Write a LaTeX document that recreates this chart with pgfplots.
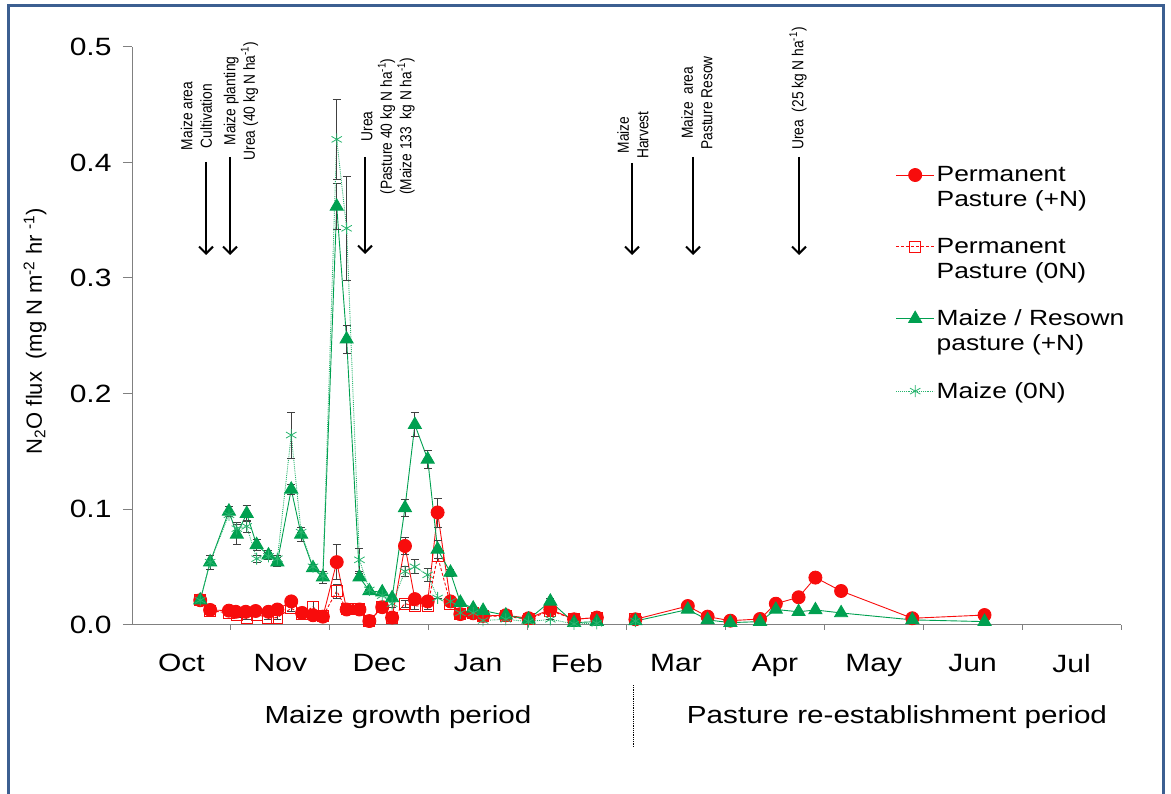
\documentclass[border=0pt]{standalone}
\usepackage{fontspec}
\setmainfont{Liberation Sans}
\newfontfamily\bigfont[FakeStretch=1.2]{Liberation Sans}
\newfontfamily\annfont[FakeStretch=0.86]{Liberation Sans}
\usepackage{pgfplots}
\pgfplotsset{compat=1.18}
\usetikzlibrary{arrows.meta}
\definecolor{myred}{RGB}{248,12,12}
\definecolor{mygreen}{RGB}{0,160,80}
\definecolor{mylgreen}{RGB}{40,180,110}
\definecolor{bordercol}{RGB}{60,95,145}

\pgfplotstableread{
x y e
0.69 0.021 0
0.79 0.0126 0
0.98 0.012 0
1.05 0.011 0
1.15 0.011 0
1.25 0.0117 0
1.38 0.011 0
1.47 0.013 0
1.61 0.020 0.002
1.72 0.010 0
1.83 0.008 0
1.93 0.0068 0
2.07 0.054 0.015
2.17 0.013 0
2.30 0.013 0
2.40 0.003 0
2.53 0.015 0
2.63 0.006 0
2.76 0.068 0.0075
2.86 0.022 0
2.99 0.020 0
3.09 0.097 0.0125
3.22 0.020 0
3.32 0.009 0
3.45 0.0097 0
3.55 0.0074 0
3.78 0.008 0
4.01 0.0054 0
4.23 0.013 0.003
4.47 0.0045 0
4.70 0.006 0
nan nan 0
5.09 0.0045 0
5.62 0.016 0
5.82 0.0068 0
6.05 0.0033 0
6.35 0.0048 0
6.51 0.018 0
6.74 0.0236 0
6.91 0.0406 0
7.17 0.029 0
7.89 0.0054 0
8.62 0.0082 0
}\ppN

\pgfplotstableread{
x y e
0.69 0.021 0
0.79 0.012 0
0.98 0.010 0
1.06 0.008 0.002
1.16 0.006 0.002
1.26 0.0085 0
1.38 0.006 0.002
1.47 0.006 0.002
1.61 0.014 0.003
1.72 0.009 0
1.83 0.0154 0.005
1.93 0.007 0
2.07 0.029 0.006
2.17 0.013 0
2.30 0.013 0
2.40 0.003 0
2.53 0.015 0
2.63 0.006 0
2.76 0.018 0.003
2.86 0.016 0.003
2.99 0.016 0.003
3.09 0.059 0.004
3.22 0.018 0
3.32 0.009 0
3.45 0.0097 0
3.55 0.0074 0
3.78 0.007 0
4.01 0.0045 0
4.23 0.012 0
4.47 0.0045 0
4.70 0.006 0
nan nan 0
5.09 0.0045 0
}\ppZ

\pgfplotstableread{
x y e
0.69 0.021 0
0.79 0.054 0.006
0.98 0.098 0.004
1.06 0.078 0.009
1.16 0.096 0.007
1.26 0.069 0.005
1.38 0.060 0.004
1.47 0.054 0.004
1.61 0.117 0.004
1.71 0.078 0.006
1.83 0.049 0.003
1.93 0.041 0.005
2.07 0.362 0.02
2.17 0.247 0.012
2.30 0.041 0.003
2.40 0.029 0
2.53 0.028 0
2.63 0.023 0
2.76 0.101 0.0075
2.86 0.173 0.0105
2.99 0.143 0.0077
3.09 0.065 0.008
3.22 0.045 0.003
3.32 0.019 0
3.45 0.014 0
3.55 0.012 0
3.78 0.008 0
4.01 0.0045 0
4.23 0.020 0.003
4.47 0.0016 0
4.70 0.0025 0
nan nan 0
5.09 0.003 0
5.62 0.013 0
5.82 0.004 0
6.05 0.0016 0
6.35 0.0025 0
6.51 0.013 0
6.74 0.011 0
6.91 0.0126 0
7.17 0.010 0
7.89 0.004 0
8.62 0.0025 0
}\mzN

\pgfplotstableread{
x y e
0.69 0.021 0
0.79 0.054 0
0.98 0.095 0
1.06 0.083 0.005
1.16 0.085 0.005
1.26 0.057 0.003
1.38 0.059 0.003
1.47 0.057 0.003
1.61 0.164 0.020
1.71 0.080 0
1.83 0.050 0
1.93 0.042 0
2.07 0.420 0.035
2.17 0.343 0.045
2.30 0.056 0.010
2.40 0.030 0
2.53 0.025 0
2.63 0.018 0.003
2.76 0.046 0.004
2.86 0.050 0.006
2.99 0.043 0.006
3.09 0.023 0
3.22 0.020 0
3.32 0.010 0
3.45 0.010 0
3.55 0.0035 0
3.78 0.0045 0
4.01 0.0025 0
4.23 0.0045 0
4.47 0.0005 0
4.70 0.001 0
nan nan 0
5.09 0.003 0
}\mzZ

\begin{document}
\begin{tikzpicture}
\useasboundingbox (0,0) rectangle (1171pt,-794pt);
\draw[bordercol, line width=3pt] (8pt,-800pt) -- (8pt,-6pt) -- (1163pt,-6pt) -- (1163pt,-800pt);
\begin{axis}[
  at={(132pt,-624.5pt)}, anchor=south west,
  scale only axis, width=989pt, height=577.5pt,
  xmin=0, xmax=10, ymin=0, ymax=0.5,
  clip=false,
  unbounded coords=jump,
  axis x line=bottom, axis y line=left,
  axis line style={-, draw=gray, line width=1pt},
  tick align=outside,
  major tick length=9pt,
  minor tick length=5pt,
  ytick={0,0.1,0.2,0.3,0.4,0.5},
  ytick style={draw=gray, line width=1pt},
  y tick label style={/pgf/number format/fixed, /pgf/number format/fixed zerofill, /pgf/number format/precision=1},
  yticklabel style={xshift=-8pt},
  xtick={0.5,1.5,2.5,3.5,4.5,5.5,6.5,7.5,8.5,9.5},
  xticklabels={Oct,Nov,Dec,Jan,Feb,Mar,Apr,May,Jun,Jul},
  major x tick style={draw=none},
  minor xtick={1,2,3,4,5,6,7,8,9,10},
  minor x tick style={draw=gray, line width=1pt},
  xticklabel style={yshift=-17pt},
  /pgf/number format/assume math mode=true,
  ticklabel style={font=\bigfont\fontsize{25}{30}\selectfont, text=black},
  legend style={at={(rel axis cs:0.769,0.8)}, anchor=north west, draw=none, fill=none,
    font=\bigfont\fontsize{22}{25}\selectfont, cells={align=left}, row sep=26pt},
  legend cell align=left,
  legend image code/.code={\draw[mark repeat=2,mark phase=2,#1] plot coordinates {(0pt,0pt) (19pt,0pt) (38pt,0pt)};},
  error bars/error bar style={black!75, line width=0.8pt, solid},
  error bars/error mark options={rotate=90, mark size=4pt, black!75, line width=0.8pt, solid},
]
\addplot[myred, line width=0.9pt, mark=*, mark size=6.5pt, mark options={solid, fill=myred},
  legend image post style={yshift=12.5pt},
  error bars/.cd, y dir=both, y explicit] table[x=x, y=y, y error=e] {\ppN};
\addlegendentry{Permanent\\Pasture (+N)}
\addplot[myred, line width=0.9pt, densely dashed, mark=square, mark size=5.5pt, mark options={solid, line width=1pt},
  legend image post style={yshift=12.5pt},
  error bars/.cd, y dir=both, y explicit] table[x=x, y=y, y error=e] {\ppZ};
\addlegendentry{Permanent\\Pasture (0N)}
\addplot[mygreen, line width=0.9pt, mark=triangle*, mark size=7.5pt, mark options={solid, fill=mygreen},
  legend image post style={yshift=12.5pt},
  error bars/.cd, y dir=both, y explicit] table[x=x, y=y, y error=e] {\mzN};
\addlegendentry{Maize / Resown\\pasture (+N)}
\addplot[mylgreen, line width=0.9pt, densely dotted, mark=asterisk, mark size=6pt, mark options={solid, line width=0.8pt},
  error bars/.cd, y dir=both, y explicit] table[x=x, y=y, y error=e] {\mzZ};
\addlegendentry{Maize (0N)}
\end{axis}

% y label
\node[rotate=90, font=\fontsize{22}{26}\selectfont] at (35pt,-331pt)
  {N\textsubscript{2}O flux\ \ (mg N m\textsuperscript{-2} hr \textsuperscript{-1})};

% annotations
\begin{scope}[font=\annfont\fontsize{16}{19.5}\selectfont]
\node[rotate=90, align=center] at (196.5pt,-116pt) {Maize area\\Cultivation};
\node[rotate=90, align=center] at (241pt,-101pt) {Maize planting\\Urea (40 kg N ha\textsuperscript{-1})};
\node[rotate=90, align=center] at (388pt,-126.5pt) {Urea\\(Pasture 40 kg N ha\textsuperscript{-1})\\(Maize 133\ \ kg N ha\textsuperscript{-1})};
\node[rotate=90, align=center] at (633pt,-135pt) {Maize\\Harvest};
\node[rotate=90, align=center] at (697pt,-103pt) {Maize\ \ area\\Pasture Resow};
\node[rotate=90, align=center] at (798pt,-88.5pt) {Urea\ \ (25 kg N ha\textsuperscript{-1})};
\end{scope}
\begin{scope}[line width=2pt, -{Straight Barb[length=7pt,width=14pt]}]
\draw (206pt,-162pt) -- (206pt,-255pt);
\draw (230pt,-157pt) -- (230pt,-255pt);
\draw (365pt,-157pt) -- (365pt,-254pt);
\draw (632pt,-163pt) -- (632pt,-255pt);
\draw (693pt,-157pt) -- (693pt,-255pt);
\draw (799pt,-157pt) -- (799pt,-255pt);
\end{scope}

% period labels
\node[font=\bigfont\fontsize{24.7}{30}\selectfont] at (398pt,-717pt) {Maize growth period};
\node[font=\bigfont\fontsize{24.7}{30}\selectfont] at (897pt,-717pt) {Pasture re-establishment period};
\draw[black, densely dotted, line width=0.8pt] (633pt,-685pt) -- (633pt,-747pt);
\end{tikzpicture}
\end{document}
